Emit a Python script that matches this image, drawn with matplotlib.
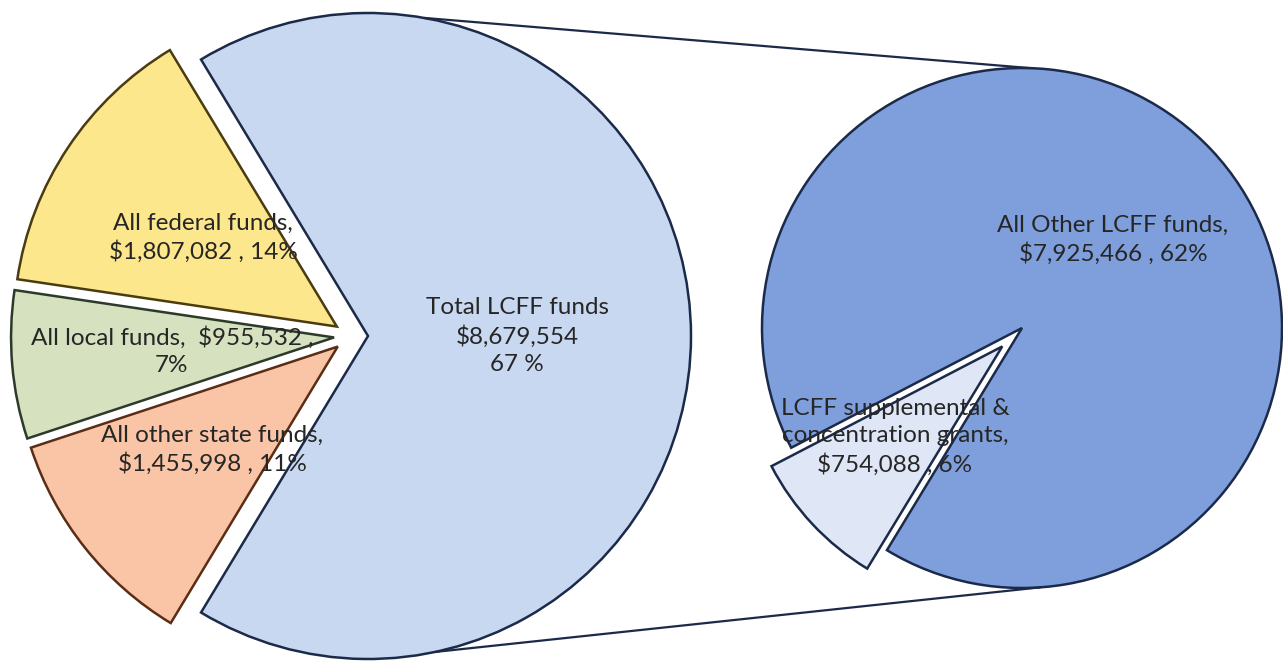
import numpy as np
import matplotlib
matplotlib.use("Agg")
import matplotlib.pyplot as plt

plt.rcParams['font.family'] = ['Lato', 'DejaVu Sans']

# left pie: all funds
fuentes = ["Total LCFF funds", "All federal funds", "All local funds", "All other state funds"]
montos = [8679554, 1807082, 955532, 1455998]
etiquetas_izq = [
    "Total LCFF funds\n$8,679,554\n67 %",
    "All federal funds,\n$1,807,082 , 14%",
    "All local funds,  $955,532 ,\n7%",
    "All other state funds,\n$1,455,998 , 11%",
]
colores_izq = ["#c8d8f0", "#fde78c", "#d6e1bf", "#fac5a6"]
bordes_izq = ["#1c2a4a", "#4a3b10", "#2c3a2a", "#5a2e16"]

# right pie: breakdown of LCFF
partes_lcff = ["All Other LCFF funds", "LCFF supplemental & concentration grants"]
montos_lcff = [7925466, 754088]
etiquetas_der = [
    "All Other LCFF funds,\n$7,925,466 , 62%",
    "LCFF supplemental &\nconcentration grants,\n$754,088 , 6%",
]
colores_der = ["#7f9fdc", "#dfe7f6"]

W, H = 1283, 663
fig = plt.figure(figsize=(W / 100, H / 100), dpi=100)
ax = fig.add_axes([0, 0, 1, 1])

# geometry (pixel units, y up)
centro_izq = (351, 327)
radio_izq = 323
centro_der = (1022, 335)
radio_der = 260
navy = "#1c2a4a"

frac_lcff = montos[0] / sum(montos)
wedges_izq, _ = ax.pie(montos, center=centro_izq, radius=radio_izq,
                       startangle=-frac_lcff * 180, counterclock=True,
                       explode=[17, 17, 17, 17], colors=colores_izq,
                       wedgeprops=dict(linewidth=1.8))
for w, b in zip(wedges_izq, bordes_izq):
    w.set_edgecolor(b)

inicio_der = 238.7
wedges_der, _ = ax.pie(montos_lcff, center=centro_der, radius=radio_der,
                       startangle=inicio_der, counterclock=True,
                       explode=[0, 27], colors=colores_der,
                       wedgeprops=dict(linewidth=1.8, edgecolor=navy))

# connector lines between the two pies
cx_l = centro_izq[0] + 17
cy_l = centro_izq[1]
for a_izq, a_der in [(80, 88), (-78, -86)]:
    x0 = cx_l + radio_izq * np.cos(np.radians(a_izq))
    y0 = cy_l + radio_izq * np.sin(np.radians(a_izq))
    x1 = centro_der[0] + radio_der * np.cos(np.radians(a_der))
    y1 = centro_der[1] + radio_der * np.sin(np.radians(a_der))
    ax.plot([x0, x1], [y0, y1], color=navy, linewidth=1.6, solid_capstyle='round')

# labels
pos_izq = [(517, H - 336), (203, H - 238), (172, H - 351), (212, H - 450)]
for txt, (x, y) in zip(etiquetas_izq, pos_izq):
    ax.text(x, y, txt, ha='center', va='center', fontsize=17.5,
            color="#262626", linespacing=1.35)

pos_der = [(1113, H - 240), (895, H - 437)]
for txt, (x, y) in zip(etiquetas_der, pos_der):
    ax.text(x, y, txt, ha='center', va='center', fontsize=17.5,
            color="#262626", linespacing=1.35)

ax.set_xlim(0, W)
ax.set_ylim(0, H)
ax.set_aspect('equal')
ax.axis('off')

fig.savefig("out.png", dpi=100)
